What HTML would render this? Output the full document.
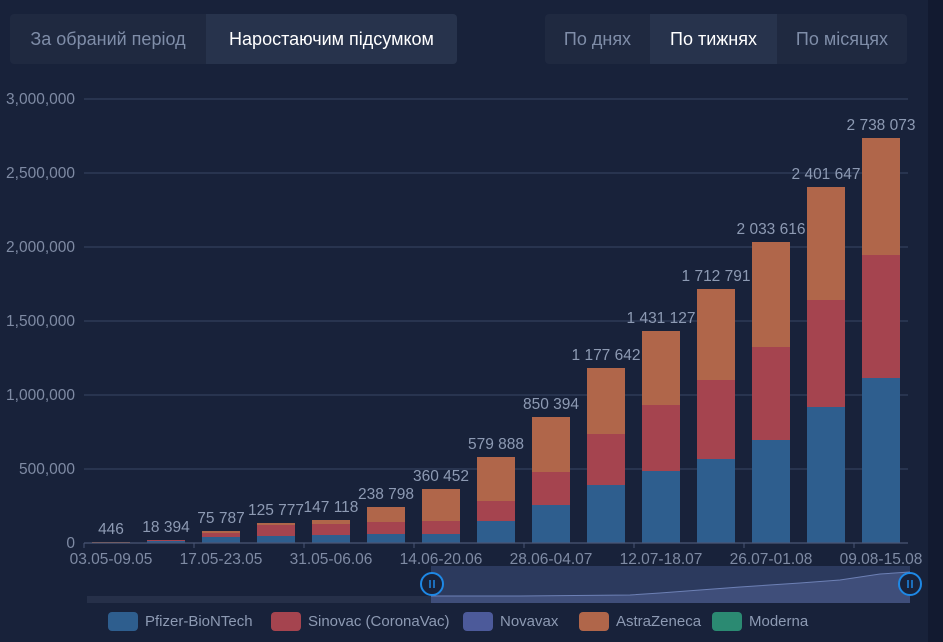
<!DOCTYPE html>
<html><head><meta charset="utf-8"><style>
body{margin:0;width:943px;height:642px;background:#18223a;overflow:hidden;font-family:"Liberation Sans",sans-serif;position:relative}
.strip{position:absolute;left:928px;top:0;width:15px;height:642px;background:#121a30}
.grp{position:absolute;top:14px;height:50px;background:#1f2940;border-radius:4px;overflow:hidden}
.grp div{position:absolute;top:0;height:50px;line-height:50px;font-size:18px;color:#7f8da8;text-align:center}
.grp .on{background:#27334c;color:#fff}
</style></head><body>
<div class="strip"></div>
<div class="grp" style="left:10px;width:447px"><div style="left:0;width:196px">За обраний період</div><div class="on" style="left:196px;width:251px">Наростаючим підсумком</div></div>
<div class="grp" style="left:545px;width:362px"><div style="left:0;width:105px">По днях</div><div class="on" style="left:105px;width:127px">По тижнях</div><div style="left:232px;width:130px">По місяцях</div></div>
<svg width="943" height="642" style="position:absolute;left:0;top:0" font-family="Liberation Sans, sans-serif">
<g stroke="#333f5c" stroke-width="1.3">
<line x1="84" y1="99" x2="908" y2="99"/><line x1="84" y1="173" x2="908" y2="173"/><line x1="84" y1="247" x2="908" y2="247"/><line x1="84" y1="321" x2="908" y2="321"/><line x1="84" y1="395" x2="908" y2="395"/><line x1="84" y1="469" x2="908" y2="469"/>
</g>
<g font-size="15.5" fill="#7f8ba4" text-anchor="end">
<text x="75" y="104">3,000,000</text><text x="75" y="178">2,500,000</text><text x="75" y="252">2,000,000</text><text x="75" y="326">1,500,000</text><text x="75" y="400">1,000,000</text><text x="75" y="474">500,000</text><text x="75" y="548">0</text>
</g>
<g id="bars"></g>
<line x1="84" y1="543" x2="908" y2="543" stroke="#4a5675" stroke-width="1.3"/>
<g stroke="#4a5675"><line x1="84" y1="543" x2="84" y2="548"/><line x1="194" y1="543" x2="194" y2="548"/><line x1="304" y1="543" x2="304" y2="548"/><line x1="414" y1="543" x2="414" y2="548"/><line x1="524" y1="543" x2="524" y2="548"/><line x1="634" y1="543" x2="634" y2="548"/><line x1="744" y1="543" x2="744" y2="548"/><line x1="854" y1="543" x2="854" y2="548"/></g>
<g font-size="15.5" fill="#7f8ba4" text-anchor="middle">
<text x="111" y="564">03.05-09.05</text><text x="221" y="564">17.05-23.05</text><text x="331" y="564">31.05-06.06</text><text x="441" y="564">14.06-20.06</text><text x="551" y="564">28.06-04.07</text><text x="661" y="564">12.07-18.07</text><text x="771" y="564">26.07-01.08</text><text x="881" y="564">09.08-15.08</text>
</g>
<rect x="87" y="596" width="344" height="7" fill="#263049"/>
<rect x="431" y="566" width="479" height="37" fill="#2c3a5e"/>
<path d="M431 596 L520 596 L630 595 L660 593 L740 587 L800 583 L840 580 L880 574 L910 572 L910 603 L431 603Z" fill="#3f4e7a"/>
<path d="M431 596 L520 596 L630 595 L660 593 L740 587 L800 583 L840 580 L880 574 L910 572" fill="none" stroke="#6d80b5" stroke-width="1"/>
<g fill="#18223a" stroke="#1e88e5" stroke-width="2"><circle cx="432" cy="584" r="11"/><circle cx="910" cy="584" r="11"/></g>
<g stroke="#1e88e5" stroke-width="1.5"><line x1="430" y1="580" x2="430" y2="588"/><line x1="434" y1="580" x2="434" y2="588"/><line x1="908" y1="580" x2="908" y2="588"/><line x1="912" y1="580" x2="912" y2="588"/></g>
<g font-size="15" fill="#8d9ab3">
<rect x="108" y="612" width="30" height="19" rx="4" fill="#2e5e8e"/><text x="145" y="626">Pfizer-BioNTech</text>
<rect x="271" y="612" width="30" height="19" rx="4" fill="#a5444f"/><text x="308" y="626">Sinovac (CoronaVac)</text>
<rect x="463" y="612" width="30" height="19" rx="4" fill="#4c5a9a"/><text x="500" y="626">Novavax</text>
<rect x="579" y="612" width="30" height="19" rx="4" fill="#b0664a"/><text x="616" y="626">AstraZeneca</text>
<rect x="712" y="612" width="30" height="19" rx="4" fill="#2b8a72"/><text x="749" y="626">Moderna</text>
</g>
</svg>
<script>
var d=[[543,543,542,"446"],[541,540,540,"18 394"],[537,533,531,"75 787"],[536,525,523,"125 777"],[535,524,520,"147 118"],[534,522,507,"238 798"],[534,521,489,"360 452"],[521,501,457,"579 888"],[505,472,417,"850 394"],[485,434,368,"1 177 642"],[471,405,331,"1 431 127"],[459,380,289,"1 712 791"],[440,347,242,"2 033 616"],[407,300,187,"2 401 647"],[378,255,138,"2 738 073"]];
var g=document.getElementById("bars"),s="";
d.forEach(function(b,i){var x=92+55*i;
s+='<rect x="'+x+'" y="'+b[2]+'" width="38" height="'+(b[1]-b[2])+'" fill="#b0664a"/>';
s+='<rect x="'+x+'" y="'+b[1]+'" width="38" height="'+(b[0]-b[1])+'" fill="#a5444f"/>';
s+='<rect x="'+x+'" y="'+b[0]+'" width="38" height="'+(543-b[0])+'" fill="#2e5e8e"/>';
s+='<text x="'+(x+19)+'" y="'+(b[2]-8)+'" font-size="15.5" fill="#8d9ab3" text-anchor="middle">'+b[3]+'</text>';});
g.innerHTML=s;
</script>
</body></html>
